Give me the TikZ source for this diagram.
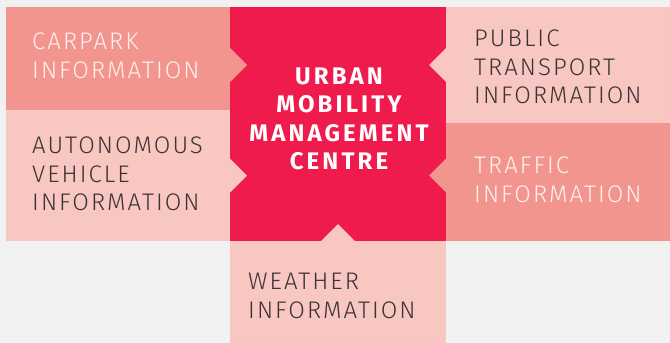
\documentclass[tikz,border=0pt]{standalone}
\usepackage{fontspec}
\usepackage{tikz}
\usetikzlibrary{positioning}
\setmainfont{Fira Sans}
\newfontfamily\boxfont{Fira Sans Light}[LetterSpace=8.5]
\newfontfamily\hubfont{Fira Sans}[LetterSpace=13]
\definecolor{pinkdark}{HTML}{F3958F}
\definecolor{pinklight}{HTML}{F9C7C2}
\definecolor{hubred}{HTML}{EE1B4C}
\definecolor{textdark}{HTML}{3B3333}
\definecolor{textlight}{HTML}{FFF0EE}
\definecolor{backgrey}{HTML}{F1F1F1}
\tikzset{
  infobox/.style={rectangle, inner sep=0pt, outer sep=0pt, anchor=north west},
  infotext/.style={inner sep=0pt, anchor=north west, align=left,
    font=\boxfont\fontsize{24}{28.5}\selectfont},
}

\begin{document}
\begin{tikzpicture}[x=1pt, y=-1pt]
      \fill[backgrey] (0,0) rectangle (670,343);
      \useasboundingbox (0,0) rectangle (670,343);
      \node[infobox, fill=pinkdark, minimum width=224pt, minimum height=103pt] (carpark) at (6,7) {};
      \node[infobox, fill=pinklight, minimum width=224pt, minimum height=131pt] (autonomous) at (6,110) {};
      \node[infobox, fill=hubred, minimum width=216pt, minimum height=234pt] (centre) at (230,7) {};
      \node[infobox, fill=pinklight, minimum width=224pt, minimum height=116pt] (public) at (446,7) {};
      \node[infobox, fill=pinkdark, minimum width=224pt, minimum height=118pt] (traffic) at (446,123) {};
      \node[infobox, fill=pinklight, minimum width=216pt, minimum height=102pt] (weather) at (230,241) {};
      \coordinate (tipcarpark) at (centre.west |- public.east);
      \coordinate (tipautonomous) at (centre.west |- autonomous.east);
      \coordinate (tippublic) at (centre.east |- public.east);
      \coordinate (tiptraffic) at (centre.east |- autonomous.east);
      \fill[pinkdark] (tipcarpark) ++(0,-17) -- ++(17,17) -- ++(-17,17) -- cycle;
      \fill[pinklight] (tipautonomous) ++(0,-17) -- ++(17,17) -- ++(-17,17) -- cycle;
      \fill[pinklight] (tippublic) ++(0,-17) -- ++(-17,17) -- ++(17,17) -- cycle;
      \fill[pinkdark] (tiptraffic) ++(0,-17) -- ++(-17,17) -- ++(17,17) -- cycle;
      \fill[pinklight] (weather.north) ++(-17,0) -- ++(17,-17) -- ++(17,17) -- cycle;
      \node[infotext, text=textlight] (carparktext) at (32,33) {CARPARK\\INFORMATION};
      \node[infotext, text=textdark] (autonomoustext) at (32,137) {AUTONOMOUS\\VEHICLE\\INFORMATION};
      \node[infotext, text=textdark] (publictext) at (474,30) {PUBLIC\\TRANSPORT\\INFORMATION};
      \node[infotext, text=textlight] (traffictext) at (474,157) {TRAFFIC\\INFORMATION};
      \node[infotext, text=textdark] (weathertext) at (248,273) {WEATHER\\INFORMATION};
      \node[inner sep=0pt, align=center, text=white, font=\hubfont\bfseries\fontsize{24}{28.5}\selectfont] (centretext) at (339,119) {URBAN\\MOBILITY\\MANAGEMENT\\CENTRE};
    \end{tikzpicture}
\end{document}
